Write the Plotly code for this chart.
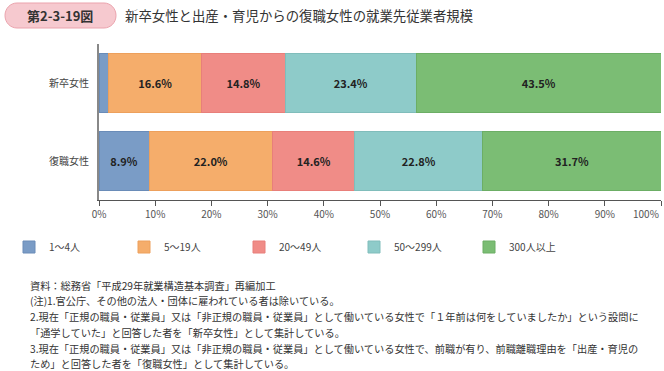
import plotly.graph_objects as go

W, H = 664, 371
L, R, T, B = 99, 3, 44, 171  # plot area: x 99..661, y 44..200

categories = ["新卒女性", "復職女性"]
series_names = ["1～4人", "5～19人", "20～49人", "50～299人", "300人以上"]
values_1to4 = [1.7, 8.9]
values_5to19 = [16.6, 22.0]
values_20to49 = [14.8, 14.6]
values_50to299 = [23.4, 22.8]
values_300plus = [43.5, 31.7]
tick_values = [0, 10, 20, 30, 40, 50, 60, 70, 80, 90, 100]
tick_labels = ["0%", "10%", "20%", "30%", "40%", "50%", "60%", "70%", "80%", "90%", "100%"]

title_badge = "第2-3-19図"
title_text = "新卒女性と出産・育児からの復職女性の就業先従業者規模"
notes = [
    "資料：総務省「平成29年就業構造基本調査」再編加工",
    "(注)1.官公庁、その他の法人・団体に雇われている者は除いている。",
    "2.現在「正規の職員・従業員」又は「非正規の職員・従業員」として働いている女性で「１年前は何をしていましたか」という設問に",
    "「通学していた」と回答した者を「新卒女性」として集計している。",
    "3.現在「正規の職員・従業員」又は「非正規の職員・従業員」として働いている女性で、前職が有り、前職離職理由を「出産・育児の",
    "ため」と回答した者を「復職女性」として集計している。",
]

colors = ["#7a9cc6", "#f5ad6b", "#f08c87", "#8ecbc9", "#7bbd74"]
edge_colors = ["#6a8cb8", "#eda05c", "#e87f7a", "#80bdbb", "#6cae65"]
FONT = "Noto Sans CJK JP"

all_values = [values_1to4, values_5to19, values_20to49, values_50to299, values_300plus]

fig = go.Figure()
for name, vals, c, ec in zip(series_names, all_values, colors, edge_colors):
    texts = [f"{v:.1f}%" if v >= 5 else "" for v in vals]
    fig.add_trace(go.Bar(
        name=name, y=categories, x=vals, orientation="h",
        marker=dict(color=c, line=dict(color=ec, width=1)),
        text=texts, textposition="inside", insidetextanchor="middle",
        textfont=dict(family=FONT, size=11, color="#222222", weight="bold"),
        constraintext="none", cliponaxis=False, hoverinfo="skip",
    ))


def px2x(px):
    return (px - L) / (W - L - R)


def px2y(py):
    return (H - B - py) / (H - T - B)


# rounded badge path in paper coords
bx0, bx1, by0, by1, r = 5, 116, 3, 28, 12


def pt(x, y):
    return f"{px2x(x):.5f},{px2y(y):.5f}"


k = 0.55
path = (f"M{pt(bx0 + r, by0)} L{pt(bx1 - r, by0)} "
        f"C{pt(bx1 - r + r * k, by0)} {pt(bx1, by0 + r - r * k)} {pt(bx1, by0 + (by1 - by0) / 2)} "
        f"C{pt(bx1, by1 - r + r * k)} {pt(bx1 - r + r * k, by1)} {pt(bx1 - r, by1)} "
        f"L{pt(bx0 + r, by1)} "
        f"C{pt(bx0 + r - r * k, by1)} {pt(bx0, by1 - r + r * k)} {pt(bx0, by0 + (by1 - by0) / 2)} "
        f"C{pt(bx0, by0 + r - r * k)} {pt(bx0 + r - r * k, by0)} {pt(bx0 + r, by0)} Z")
fig.add_shape(type="path", path=path, xref="paper", yref="paper",
              fillcolor="#f6c9cf", line=dict(color="#eba3ad", width=1), layer="above")

annotations = [
    dict(text=title_badge, x=px2x(60), y=px2y(15.5), xanchor="center", yanchor="middle",
         font=dict(family=FONT, size=13, color="#333333", weight="bold")),
    dict(text=title_text, x=px2x(123), y=px2y(15.5), xanchor="left", yanchor="middle",
         font=dict(family=FONT, size=13.4, color="#333333")),
    # last tick label is pulled inside the figure edge, as in the reference
    dict(text=tick_labels[-1], x=1.0, y=px2y(214), xanchor="right", yanchor="middle",
         font=dict(family=FONT, size=10, color="#555555")),
]
note_y = [285, 300, 316, 332, 348, 363]
for t, yy in zip(notes, note_y):
    annotations.append(dict(text=t, x=px2x(28), y=px2y(yy), xanchor="left", yanchor="middle",
                            font=dict(family=FONT, size=10.2, color="#333333")))
for a in annotations:
    a.update(xref="paper", yref="paper", showarrow=False)

shown_ticktext = tick_labels[:-1] + [""]

fig.update_layout(
    width=W, height=H,
    margin=dict(l=L, r=R, t=T, b=B, pad=0, autoexpand=False),
    barmode="stack", bargap=0.24,
    plot_bgcolor="white", paper_bgcolor="white",
    font=dict(family=FONT, color="#444444"),
    showlegend=True,
    legend=dict(orientation="h", x=px2x(9), y=px2y(247), xanchor="left", yanchor="middle",
                entrywidth=70, entrywidthmode="pixels", traceorder="normal",
                font=dict(family=FONT, size=10, color="#444444"),
                itemclick=False, itemdoubleclick=False),
    xaxis=dict(range=[0, 100], tickvals=tick_values, ticktext=shown_ticktext, automargin=False,
               showgrid=False, zeroline=False, showline=True, linecolor="#555555", linewidth=1,
               ticks="outside", ticklen=5, tickcolor="#555555",
               tickfont=dict(family=FONT, size=10, color="#555555"), fixedrange=True),
    yaxis=dict(autorange="reversed", showgrid=False, zeroline=False, showline=True, automargin=False,
               linecolor="#888888", linewidth=2, ticks="", ticklabelstandoff=6,
               tickfont=dict(family=FONT, size=10, color="#444444"), fixedrange=True),
    annotations=annotations,
    uniformtext=dict(mode=False),
)

fig.write_html("out.html", config={"displayModeBar": False},
               post_script="document.body.style.margin='0';document.body.style.overflow='hidden';")
